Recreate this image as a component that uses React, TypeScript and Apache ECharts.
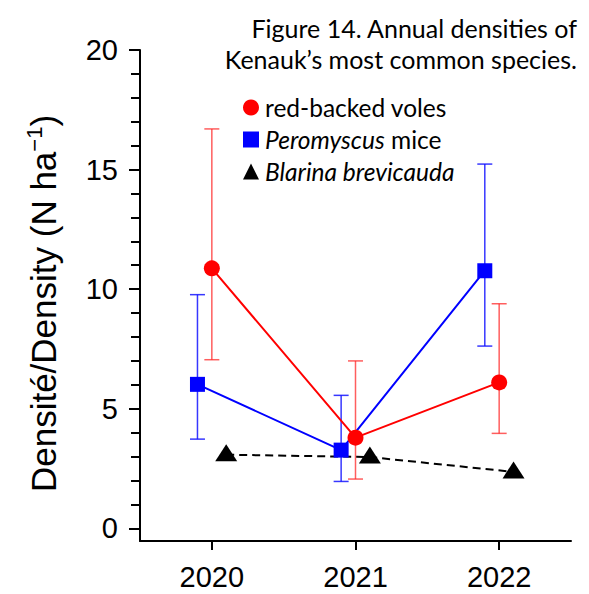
import React, { useEffect, useRef } from 'react';
import * as echarts from 'echarts';

const years = [2020, 2021, 2022];
const voleMean = [10.87, 3.79, 6.1];
const voleLow = [7.05, 2.06, 3.97];
const voleHigh = [16.7, 7.0, 9.39];
const miceMean = [6.02, 3.27, 10.77];
const miceLow = [3.73, 1.96, 7.62];
const miceHigh = [9.77, 5.56, 15.23];
const shrewMean = [3.08, 2.98, 2.36];
const yMajorTicks = [0, 5, 10, 15, 20];
const yMinorTicks = [0, 1, 2, 3, 4, 5, 6, 7, 8, 9, 10, 11, 12, 13, 14, 15, 16, 17, 18, 19, 20];

const DODGE_MICE = -0.1;
const DODGE_VOLE = 0;
const DODGE_SHREW = 0.1;

const errorSeries = (name: string, dodge: number, low: number[], high: number[], color: string) => ({
  type: 'custom',
  name: name + ' error',
  z: 1,
  silent: true,
  encode: { x: 0, y: [1, 2] },
  data: years.map((y, i) => [y + dodge, low[i], high[i]]),
  renderItem: (params: any, api: any) => {
    const x = api.value(0);
    const pLo = api.coord([x, api.value(1)]);
    const pHi = api.coord([x, api.value(2)]);
    const hw = 7.5;
    const style = { stroke: color, lineWidth: 1.5, fill: null };
    return {
      type: 'group',
      children: [
        { type: 'line', shape: { x1: pLo[0], y1: pLo[1], x2: pHi[0], y2: pHi[1] }, style },
        { type: 'line', shape: { x1: pHi[0] - hw, y1: pHi[1], x2: pHi[0] + hw, y2: pHi[1] }, style },
        { type: 'line', shape: { x1: pLo[0] - hw, y1: pLo[1], x2: pLo[0] + hw, y2: pLo[1] }, style },
      ],
    };
  },
});

export default function App() {
  const ref = useRef<HTMLDivElement>(null);
  useEffect(() => {
    if (!ref.current) return;
    const chart = echarts.init(ref.current, null, { renderer: 'svg' });
    const axisFont = { fontFamily: '"Liberation Sans", Arial, sans-serif', fontSize: 29, color: '#000' };
    const calibriLike = 'Lato, "Open Sans", sans-serif';
    chart.setOption({
      animation: false,
      backgroundColor: '#fff',
      title: {
        text: 'Figure 14. Annual densities of\nKenauk\u2019s most common species.',
        left: 572,
        top: 7,
        textAlign: 'right',
        textStyle: { fontFamily: calibriLike, fontSize: 25, fontWeight: 'normal', color: '#000', lineHeight: 31 },
      },
      legend: {
        orient: 'vertical',
        left: 238,
        top: 90,
        itemWidth: 16,
        itemHeight: 16,
        itemGap: 7,
        selectedMode: false,
        data: [
          { name: 'red-backed voles', icon: 'circle' },
          { name: 'Peromyscus mice', icon: 'rect' },
          { name: 'Blarina brevicauda', icon: 'triangle' },
        ],
        formatter: (name: string) => {
          if (name === 'Peromyscus mice') return '{i|Peromyscus} mice';
          if (name === 'Blarina brevicauda') return '{i|Blarina brevicauda}';
          return name;
        },
        textStyle: {
          fontFamily: calibriLike,
          fontSize: 24.5,
          lineHeight: 16,
          color: '#000',
          padding: [0, 0, 0, 1],
          rich: {
            i: { fontFamily: calibriLike, fontSize: 24.5, lineHeight: 16, fontStyle: 'italic', color: '#000' },
          },
        },
      },
      grid: { left: 140, right: 18, top: 50, bottom: 53, containLabel: false },
      xAxis: {
        type: 'value',
        min: 2019.5,
        max: 2022.5,
        axisLine: { onZero: false, lineStyle: { color: '#000', width: 2 } },
        axisTick: { customValues: years, length: 9, lineStyle: { color: '#000', width: 2 } },
        axisLabel: { customValues: years, formatter: (v: number) => String(v), margin: 21, ...axisFont },
        splitLine: { show: false },
      },
      yAxis: [
        {
          type: 'value',
          min: -0.53,
          max: 20,
          position: 'left',
          name: 'Densit\u00e9/Density (N ha{sup|\u22121})',
          nameLocation: 'middle',
          nameRotate: 90,
          nameGap: 77,
          nameTextStyle: {
            fontFamily: '"Liberation Sans", Arial, sans-serif',
            fontSize: 35,
            color: '#000',
            lineHeight: 40,
            padding: [0, 16, 0, 0],
            rich: {
              sup: { fontFamily: '"Liberation Sans", Arial, sans-serif', fontSize: 22, color: '#000', verticalAlign: 'top', lineHeight: 22 },
            },
          },
          axisLine: { onZero: false, lineStyle: { color: '#000', width: 2 } },
          axisTick: { customValues: yMajorTicks, length: 11, lineStyle: { color: '#000', width: 2 } },
          axisLabel: { customValues: yMajorTicks, margin: 22, ...axisFont },
          splitLine: { show: false },
        },
        {
          type: 'value',
          min: -0.53,
          max: 20,
          position: 'left',
          axisLine: { show: false, onZero: false },
          axisTick: { customValues: yMinorTicks, length: 9, lineStyle: { color: '#000', width: 2 } },
          axisLabel: { show: false },
          splitLine: { show: false },
        },
      ],
      series: [
        errorSeries('mice', DODGE_MICE, miceLow, miceHigh, 'rgba(20,20,255,0.85)'),
        errorSeries('voles', DODGE_VOLE, voleLow, voleHigh, 'rgba(255,40,40,0.75)'),
        {
          type: 'line',
          name: 'Peromyscus mice',
          z: 3,
          data: years.map((y, i) => [y + DODGE_MICE, miceMean[i]]),
          symbol: 'rect',
          symbolSize: 15,
          itemStyle: { color: '#0000ff' },
          lineStyle: { color: '#0000ff', width: 2 },
        },
        {
          type: 'line',
          name: 'red-backed voles',
          z: 4,
          data: years.map((y, i) => [y + DODGE_VOLE, voleMean[i]]),
          symbol: 'circle',
          symbolSize: 16,
          itemStyle: { color: '#ff0000' },
          lineStyle: { color: '#ff0000', width: 2 },
        },
        {
          type: 'line',
          name: 'Blarina brevicauda',
          z: 3,
          data: years.map((y, i) => [y + DODGE_SHREW, shrewMean[i]]),
          symbol: 'triangle',
          symbolSize: [22, 17],
          symbolOffset: [0, -2],
          itemStyle: { color: '#000' },
          lineStyle: { color: '#000', width: 2, type: [8, 5] },
        },
      ],
    });
    return () => chart.dispose();
  }, []);
  return <div ref={ref} style={{ width: 589, height: 594, position: 'absolute', left: 0, top: 0 }} />;
}
